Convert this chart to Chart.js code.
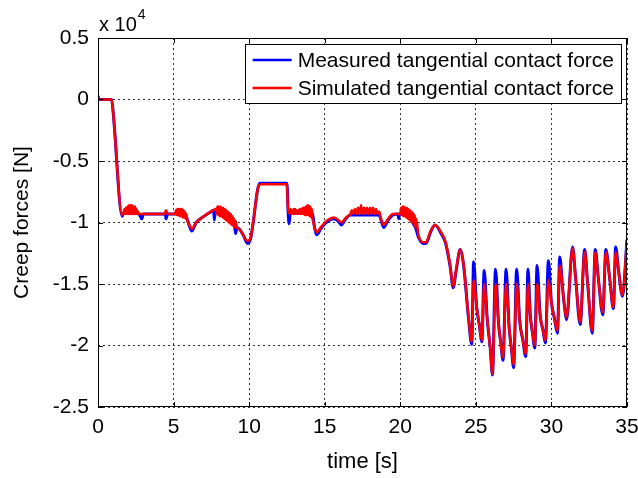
<!DOCTYPE html>
<html>
<head>
<meta charset="utf-8">
<title>Creep forces</title>
<script src="https://cdn.jsdelivr.net/npm/chart.js@4.4.0/dist/chart.umd.min.js"></script>
<style>
  html, body { margin: 0; padding: 0; background: #fff; }
</style>
</head>
<body>
<canvas id="myChart" width="638" height="478"></canvas>
<script>
// values in units of 1e4 N
const simTime = [
  0, 0.9, 1.0, 1.6, 1.7,
  1.75, 1.8, 1.85, 1.9, 1.95, 2.0, 2.05, 2.1, 2.15, 2.2,
  2.25, 2.3, 2.35, 2.4, 2.45, 2.5, 2.55, 2.6, 2.65, 2.7,
  2.8, 4.4, 4.5, 4.6, 5.1,
  5.15, 5.2, 5.25, 5.3, 5.35, 5.4, 5.45, 5.5,
  5.55, 5.6, 5.65, 5.7, 5.75, 5.8, 5.85, 5.9,
  6.05, 6.2, 6.5, 7.0, 7.5, 7.8,
  7.85, 7.9, 7.95, 8.0, 8.05, 8.1, 8.15, 8.2, 8.25, 8.3, 8.35, 8.4, 8.45, 8.5,
  8.55, 8.6, 8.65, 8.7, 8.75, 8.8, 8.85, 8.9, 8.95, 9.0, 9.05, 9.1, 9.2,
  9.4, 9.6, 9.9, 10.1, 10.3, 10.55, 10.75, 12.5, 12.58,
  12.65, 12.7, 12.75, 12.8, 12.85, 12.9, 12.95, 13.0, 13.05, 13.1, 13.15, 13.2, 13.25, 13.3, 13.35, 13.4,
  13.45, 13.5, 13.55, 13.6, 13.65, 13.7, 13.75, 13.8, 13.85, 13.9, 13.95, 14.0, 14.05, 14.1, 14.15, 14.2,
  14.3, 14.45, 14.8, 15.2, 15.6, 15.9, 16.1, 16.4, 16.7,
  16.8, 16.9, 17.0, 17.1, 17.2, 17.3, 17.4, 17.5, 17.6, 17.7,
  17.8, 17.9, 18.0, 18.1, 18.2, 18.3, 18.4, 18.5, 18.6,
  18.7, 18.9, 19.2, 19.5, 20.0,
  20.05, 20.1, 20.15, 20.2, 20.25, 20.3, 20.35, 20.4, 20.45, 20.5,
  20.55, 20.6, 20.65, 20.7, 20.75, 20.8, 20.85, 20.9, 20.95, 21.0, 21.05,
  21.2, 21.5, 21.7, 22.0, 22.3, 22.7, 23.0, 23.3, 23.5, 23.7, 23.96, 24.2, 24.5, 24.73,
  24.85, 25.05, 25.25, 25.4, 25.55, 25.75, 25.95, 26.1,
  26.3, 26.5, 26.65, 26.8, 27.0, 27.2, 27.35, 27.5,
  27.7, 27.9, 28.1, 28.3, 28.45, 28.6, 28.75, 28.9,
  29.05, 29.25, 29.45, 29.6, 29.8, 30.0, 30.2, 30.4,
  30.55, 30.75, 30.9, 31.0, 31.4, 31.6, 31.9,
  32.2, 32.4, 32.7, 32.9, 33.1, 33.4, 33.6, 33.85,
  34.1, 34.25, 34.45, 34.7, 35.0
];
const simForce = [
  0, 0, -0.1, -0.94, -0.92,
  -0.89, -0.93, -0.88, -0.93, -0.87, -0.93, -0.86, -0.93, -0.86, -0.93,
  -0.86, -0.93, -0.87, -0.93, -0.87, -0.93, -0.89, -0.93, -0.91, -0.93,
  -0.93, -0.93, -0.90, -0.93, -0.93,
  -0.90, -0.94, -0.89, -0.94, -0.89, -0.95, -0.89, -0.95,
  -0.89, -0.96, -0.90, -0.96, -0.91, -0.97, -0.93, -0.98,
  -1.02, -1.05, -1.0, -0.95, -0.91, -0.89,
  -0.93, -0.87, -0.94, -0.87, -0.95, -0.87, -0.95, -0.88, -0.96, -0.88, -0.97, -0.89, -0.98, -0.90,
  -0.99, -0.91, -1.0, -0.92, -1.01, -0.93, -1.02, -0.95, -1.03, -0.97, -1.04, -0.99, -1.04,
  -1.06, -1.1, -1.15, -1.12, -0.97, -0.74, -0.69, -0.69, -0.92,
  -0.90, -0.93, -0.89, -0.93, -0.90, -0.93, -0.89, -0.93, -0.89, -0.93, -0.90, -0.93, -0.90, -0.93, -0.89, -0.93,
  -0.89, -0.93, -0.88, -0.93, -0.88, -0.94, -0.87, -0.94, -0.86, -0.94, -0.86, -0.95, -0.87, -0.96, -0.89, -0.97,
  -1.02, -1.08, -1.03, -0.98, -0.96, -0.98, -1.0, -0.96, -0.93,
  -0.90, -0.93, -0.89, -0.93, -0.88, -0.93, -0.86, -0.93, -0.88, -0.93,
  -0.88, -0.93, -0.88, -0.93, -0.88, -0.93, -0.89, -0.93, -0.91,
  -0.96, -1.02, -0.97, -0.93, -0.93,
  -0.88, -0.94, -0.87, -0.95, -0.87, -0.95, -0.88, -0.96, -0.88, -0.97,
  -0.89, -0.98, -0.90, -0.99, -0.91, -1.0, -0.92, -1.02, -0.94, -1.04, -0.97,
  -1.1, -1.16, -1.16, -1.07, -1.02, -1.08, -1.16, -1.35, -1.52, -1.38, -1.22, -1.35, -1.75, -1.97,
  -1.47, -1.68, -1.85, -1.96, -1.50, -1.78, -2.02, -2.23,
  -1.50, -1.82, -1.98, -2.10, -1.50, -1.85, -2.02, -2.16,
  -1.50, -1.80, -1.95, -2.07, -1.50, -1.75, -1.90, -2.00,
  -1.50, -1.75, -1.88, -1.96, -1.47, -1.65, -1.78, -1.88,
  -1.35, -1.55, -1.72, -1.77, -1.21, -1.45, -1.81,
  -1.24, -1.5, -1.88, -1.24, -1.45, -1.73, -1.24, -1.45,
  -1.69, -1.24, -1.4, -1.59, -1.15
];

const measTime = [
  0, 0.05, 0.9, 1.0, 1.6, 1.7,
  2.7, 2.9, 3.0, 4.45, 4.5, 4.6, 5.1, 5.5, 5.9,
  6.05, 6.2, 6.5, 7.0, 7.5, 7.65, 7.7, 7.75, 8.5, 9.0, 9.1, 9.2,
  9.4, 9.6, 9.9, 10.1, 10.3, 10.55, 10.7, 12.5, 12.58, 12.65, 12.72,
  14.2, 14.3, 14.45, 14.8, 15.2, 15.6, 15.9, 16.1, 16.4, 16.7,
  18.6, 18.7, 18.9, 19.2, 19.5, 19.85, 19.9, 19.95, 21.0,
  21.2, 21.5, 21.7, 22.0, 22.3, 22.7, 23.0, 23.3, 23.5, 23.7, 23.96, 24.2, 24.5, 24.73,
  24.85, 25.05, 25.25, 25.4, 25.55, 25.75, 25.95, 26.1,
  26.3, 26.5, 26.65, 26.8, 27.0, 27.2, 27.35, 27.5,
  27.7, 27.9, 28.1, 28.3, 28.45, 28.6, 28.75, 28.9,
  29.05, 29.25, 29.45, 29.6, 29.8, 30.0, 30.2, 30.4,
  30.55, 30.75, 30.9, 31.0, 31.4, 31.6, 31.9,
  32.2, 32.4, 32.7, 32.9, 33.1, 33.4, 33.6, 33.85,
  34.1, 34.25, 34.45, 34.7, 35.0
];
const measForce = [
  0.03, 0, 0, -0.1, -0.95, -0.92,
  -0.93, -0.97, -0.93, -0.93, -0.97, -0.93, -0.93, -0.93, -0.97,
  -1.03, -1.07, -1.0, -0.95, -0.91, -0.90, -0.98, -0.91, -0.95, -0.98, -1.09, -1.04,
  -1.06, -1.1, -1.17, -1.13, -0.97, -0.74, -0.68, -0.68, -0.92, -1.01, -0.92,
  -0.93, -1.02, -1.10, -1.04, -0.99, -0.97, -0.99, -1.02, -0.97, -0.94,
  -0.94, -0.97, -1.04, -0.98, -0.94, -0.93, -0.97, -0.93, -1.04,
  -1.12, -1.17, -1.17, -1.08, -1.02, -1.09, -1.17, -1.36, -1.53, -1.39, -1.22, -1.36, -1.76, -1.99,
  -1.32, -1.68, -1.85, -1.97, -1.39, -1.78, -2.02, -2.24,
  -1.38, -1.82, -1.98, -2.12, -1.38, -1.85, -2.02, -2.18,
  -1.38, -1.80, -1.95, -2.09, -1.38, -1.75, -1.90, -2.02,
  -1.35, -1.75, -1.88, -1.98, -1.31, -1.65, -1.78, -1.90,
  -1.28, -1.55, -1.72, -1.79, -1.20, -1.45, -1.83,
  -1.22, -1.5, -1.90, -1.22, -1.45, -1.75, -1.22, -1.45,
  -1.70, -1.20, -1.4, -1.60, -1.14
];

const xTicks = [0, 5, 10, 15, 20, 25, 30, 35];
const yTicks = [0.5, 0, -0.5, -1, -1.5, -2, -2.5];

const FONT = '"Liberation Sans", Arial, Helvetica, sans-serif';

// MATLAB-ish box: full frame, inward ticks, exponent label, legend inside
const matlabBox = {
  id: 'matlabBox',
  afterDraw(chart) {
    const ctx = chart.ctx;
    const a = chart.chartArea;
    const sx = chart.scales.x, sy = chart.scales.y;
    ctx.save();
    ctx.strokeStyle = '#000';
    ctx.lineWidth = 1;
    ctx.strokeRect(Math.round(a.left) + 0.5, Math.round(a.top) + 0.5,
      Math.round(a.right - a.left) - 1, Math.round(a.bottom - a.top) - 1);

    ctx.beginPath();
    xTicks.forEach(v => {
      const x = Math.round(sx.getPixelForValue(v)) + 0.5;
      ctx.moveTo(x, a.bottom); ctx.lineTo(x, a.bottom - 5);
      ctx.moveTo(x, a.top); ctx.lineTo(x, a.top + 5);
    });
    yTicks.forEach(v => {
      const y = Math.round(sy.getPixelForValue(v)) + 0.5;
      ctx.moveTo(a.left, y); ctx.lineTo(a.left + 5, y);
      ctx.moveTo(a.right, y); ctx.lineTo(a.right - 5, y);
    });
    ctx.stroke();

    // exponent
    ctx.fillStyle = '#000';
    ctx.textBaseline = 'alphabetic';
    ctx.textAlign = 'left';
    ctx.font = '20px ' + FONT;
    ctx.fillText('x 10', a.left + 1, a.top - 7);
    const w = ctx.measureText('x 10').width;
    ctx.font = '14px ' + FONT;
    ctx.fillText('4', a.left + 2 + w, a.top - 19);

    // legend
    ctx.font = '21px ' + FONT;
    const ds = chart.data.datasets;
    const textW = Math.max(...ds.map(d => ctx.measureText(d.label).width));
    const boxR = a.right - 6, boxT = a.top + 6;
    const boxW = 53 + textW + 7, boxH = 59;
    const boxL = boxR - boxW;
    ctx.fillStyle = '#fff';
    ctx.fillRect(boxL, boxT, boxW, boxH);
    ctx.strokeStyle = '#000';
    ctx.strokeRect(Math.round(boxL) + 0.5, boxT + 0.5, Math.round(boxW), boxH);
    ds.forEach((d, i) => {
      const y = boxT + 16 + i * 28;
      ctx.strokeStyle = d.borderColor;
      ctx.lineWidth = 2.5;
      ctx.beginPath();
      ctx.moveTo(boxL + 8, y); ctx.lineTo(boxL + 47, y);
      ctx.stroke();
      ctx.fillStyle = '#000';
      ctx.textBaseline = 'middle';
      ctx.fillText(d.label, boxL + 53, y + 1);
    });
    ctx.restore();
  }
};

const ctx = document.getElementById('myChart').getContext('2d');

new Chart(ctx, {
  type: 'line',
  data: {
    datasets: [{
      label: 'Measured tangential contact force',
      data: measTime.map((t, i) => ({ x: t, y: measForce[i] })),
      borderColor: '#0000ff',
      borderWidth: 3,
      pointRadius: 0,
      cubicInterpolationMode: 'monotone',
      order: 2
    }, {
      label: 'Simulated tangential contact force',
      data: simTime.map((t, i) => ({ x: t, y: simForce[i] })),
      borderColor: '#ff0000',
      borderWidth: 2.5,
      pointRadius: 0,
      cubicInterpolationMode: 'monotone',
      order: 1
    }]
  },
  options: {
    responsive: false,
    animation: false,
    devicePixelRatio: 1,
    layout: { padding: { left: 0, right: 11, top: 38, bottom: 0 } },
    plugins: {
      legend: { display: false },
      tooltip: { enabled: false }
    },
    scales: {
      x: {
        type: 'linear',
        min: 0,
        max: 35,
        afterBuildTicks: s => { s.ticks = xTicks.map(v => ({ value: v })); },
        afterFit: s => { s.height = 71; s.paddingLeft = 0; s.paddingRight = 0; },
        grid: { color: '#333', lineWidth: 1, drawTicks: false },
        border: { display: false, dash: [2, 3] },
        ticks: { color: '#000', font: { family: FONT, size: 21 }, padding: 8, maxRotation: 0 },
        title: { display: true, text: 'time [s]', color: '#000', font: { family: FONT, size: 22 }, padding: { top: 0, bottom: 3 } }
      },
      y: {
        type: 'linear',
        min: -2.5,
        max: 0.5,
        afterBuildTicks: s => { s.ticks = yTicks.map(v => ({ value: v })); },
        afterFit: s => { s.width = 98; },
        grid: { color: '#333', lineWidth: 1, drawTicks: false },
        border: { display: false, dash: [2, 3] },
        ticks: { color: '#000', font: { family: FONT, size: 21 }, padding: 9, callback: v => String(v) },
        title: { display: true, text: 'Creep forces [N]', color: '#000', font: { family: FONT, size: 21 }, padding: { top: 10, bottom: 0 } }
      }
    }
  },
  plugins: [matlabBox]
});
</script>
</body>
</html>
